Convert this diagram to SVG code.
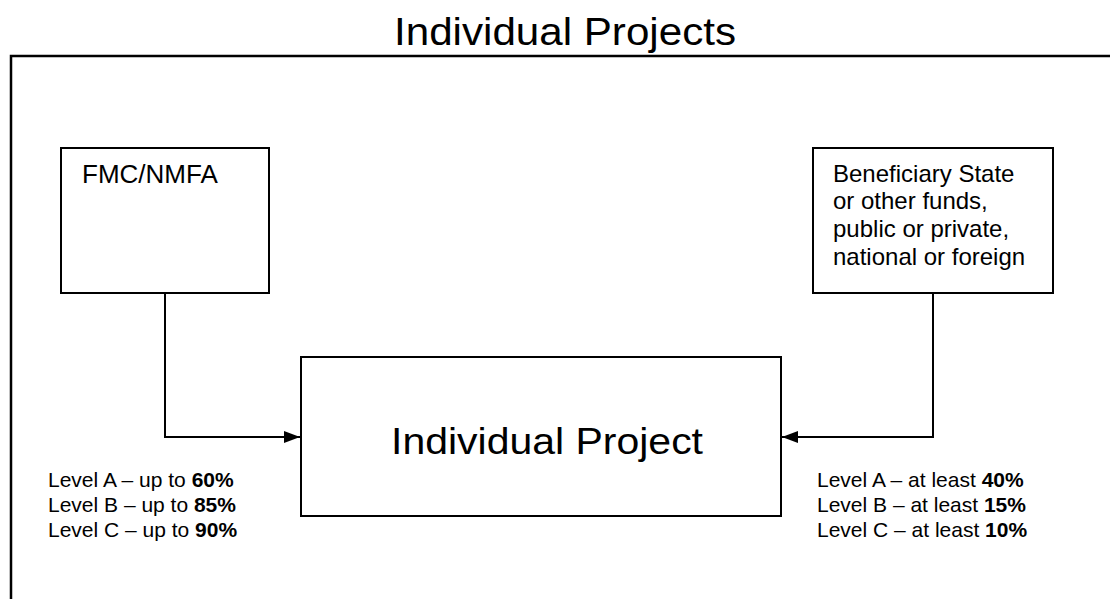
<svg xmlns="http://www.w3.org/2000/svg" width="1110" height="599" viewBox="0 0 1110 599">
  <style>
    .t { font-family: "Liberation Sans", Arial, sans-serif; fill: #000; }
    .box { fill: #fff; stroke: #000; stroke-width: 2; }
    .conn { fill: none; stroke: #000; stroke-width: 2; }
    .b { font-weight: bold; }
  </style>
  <defs>
    <marker id="arrow" viewBox="0 0 16 12" refX="16" refY="6" markerWidth="16" markerHeight="12" markerUnits="userSpaceOnUse" orient="auto">
      <path d="M0,0 L16,6 L0,12 Z" fill="#000"/>
    </marker>
  </defs>
  <rect width="1110" height="599" fill="#fff"/>
  <text class="t" x="394" y="45" font-size="38" textLength="342" lengthAdjust="spacingAndGlyphs">Individual Projects</text>
  <path d="M11,599 V56 H1110" fill="none" stroke="#000" stroke-width="2.5"/>

  <g id="fmc">
    <rect class="box" x="61" y="148" width="208" height="145"/>
    <text class="t" x="82" y="183" font-size="26">FMC/NMFA</text>
  </g>

  <g id="beneficiary">
    <rect class="box" x="813" y="148" width="240" height="145"/>
    <text class="t" font-size="24">
      <tspan x="833" y="182">Beneficiary State</tspan>
      <tspan x="833" y="209">or other funds,</tspan>
      <tspan x="833" y="237">public or private,</tspan>
      <tspan x="833" y="265">national or foreign</tspan>
    </text>
  </g>

  <g id="project">
    <rect class="box" x="301" y="357" width="480" height="159"/>
    <text class="t" x="391" y="454" font-size="37" textLength="312" lengthAdjust="spacingAndGlyphs">Individual Project</text>
  </g>

  <g id="connectors">
    <path class="conn" d="M165,293 V437 H300" marker-end="url(#arrow)"/>
    <path class="conn" d="M933,293 V437 H782" marker-end="url(#arrow)"/>
  </g>

  <g id="left-labels">
    <text class="t" font-size="21">
      <tspan x="48" y="487">Level A – up to <tspan class="b">60%</tspan></tspan>
      <tspan x="48" y="512">Level B – up to <tspan class="b">85%</tspan></tspan>
      <tspan x="48" y="537">Level C – up to <tspan class="b">90%</tspan></tspan>
    </text>
  </g>

  <g id="right-labels">
    <text class="t" font-size="21">
      <tspan x="817" y="487">Level A – at least <tspan class="b">40%</tspan></tspan>
      <tspan x="817" y="512">Level B – at least <tspan class="b">15%</tspan></tspan>
      <tspan x="817" y="537">Level C – at least <tspan class="b">10%</tspan></tspan>
    </text>
  </g>
</svg>
